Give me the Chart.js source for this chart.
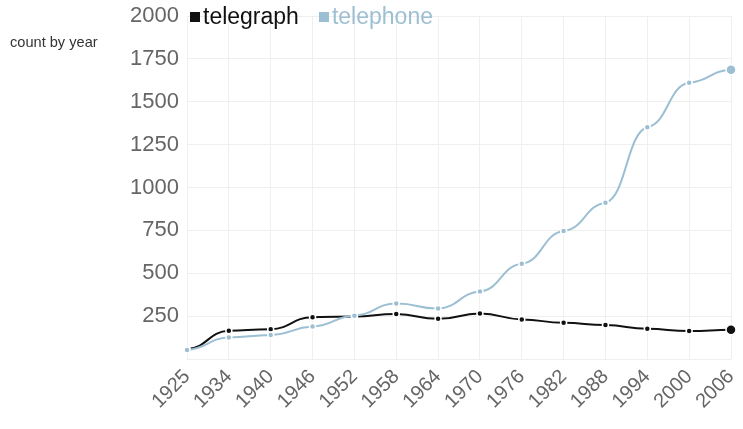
<!DOCTYPE html>
<html>
<head>
<meta charset="utf-8">
<script src="https://cdn.jsdelivr.net/npm/chart.js@4/dist/chart.umd.min.js"></script>
<style>
  html, body { margin: 0; padding: 0; background: #fff; }
  #wrap { position: relative; width: 743px; height: 429px; font-family: "Liberation Sans", Arial, sans-serif; }
  #yTitle { position: absolute; left: 10px; top: 34px; font-size: 14.6px; color: #333; }
  #legend { position: absolute; left: 190px; top: 3px; font-size: 23px; white-space: nowrap; }
  #legend span.item { margin-right: 20px; }
  #legend i { display: inline-block; width: 10px; height: 10px; margin-right: 3px; vertical-align: 2px; }
</style>
</head>
<body>
<div id="wrap">
  <canvas id="myChart" width="743" height="429"></canvas>
  <div id="yTitle">count by year</div>
  <div id="legend"></div>
</div>
<script>
var years = ['1925','1934','1940','1946','1952','1958','1964','1970','1976','1982','1988','1994','2000','2006'];
var telegraph = [58, 164, 174, 244, 248, 263, 234, 265, 231, 211, 198, 176, 163, 171];
var telephone = [53, 125, 140, 189, 252, 324, 295, 394, 555, 746, 911, 1351, 1611, 1687];
var yTicks = [250, 500, 750, 1000, 1250, 1500, 1750, 2000];

var seriesNames = ['telegraph', 'telephone'];
var seriesColors = ['#111111', '#9dbfd3'];

// points bigger on the last year, like the original
function radius(ctx) {
    return ctx.dataIndex === years.length - 1 ? 5 : 3;
}

// the original curve is almost flat at every point, so flatten the bezier handles
var flatCurves = {
    id: 'flatCurves',
    beforeDatasetDraw: function(chart, args) {
        var meta = args.meta;
        meta.dataset.updateControlPoints(chart.chartArea, meta.iScale.axis);
        var pts = meta.data;
        for (var j = 0; j < pts.length; j++) {
            var p = pts[j];
            if (j > 0) {
                p.cp1x = p.x - (p.x - pts[j - 1].x) * 0.5;
                p.cp1y = p.y + (p.cp1y - p.y) * 0.2;
            }
            if (j < pts.length - 1) {
                p.cp2x = p.x + (pts[j + 1].x - p.x) * 0.5;
                p.cp2y = p.y + (p.cp2y - p.y) * 0.2;
            }
        }
    }
};

var ctx = document.getElementById('myChart').getContext('2d');
var myChart = new Chart(ctx, {
    type: 'line',
    data: {
        labels: years,
        datasets: [{
            label: seriesNames[0],
            data: telegraph,
            borderColor: seriesColors[0],
            backgroundColor: seriesColors[0],
            pointBorderColor: '#fff',
            pointBorderWidth: 1.5,
            pointRadius: radius,
            borderWidth: 2,
            tension: 0.4,
            order: 1
        }, {
            label: seriesNames[1],
            data: telephone,
            borderColor: seriesColors[1],
            backgroundColor: seriesColors[1],
            pointBorderColor: '#fff',
            pointBorderWidth: 1.5,
            pointRadius: radius,
            borderWidth: 2,
            tension: 0.4,
            order: 0
        }]
    },
    plugins: [flatCurves],
    options: {
        responsive: false,
        animation: false,
        layout: { padding: { top: 16, right: 12, bottom: 0, left: 0 } },
        plugins: {
            legend: { display: false },
            tooltip: { enabled: false }
        },
        scales: {
            x: {
                offset: false,
                border: { display: false },
                grid: { color: '#efefef', drawTicks: false },
                ticks: {
                    minRotation: 45,
                    maxRotation: 45,
                    padding: 6,
                    color: '#666',
                    font: { family: 'Liberation Sans', size: 20 }
                },
                afterFit: function(scale) {
                    scale.height = 70;
                    scale.paddingLeft = 0;
                    scale.paddingRight = 0;
                }
            },
            y: {
                min: 0,
                max: 2000,
                border: { display: false },
                grid: { color: '#efefef', drawTicks: false },
                afterBuildTicks: function(scale) {
                    scale.ticks = [{ value: 0 }].concat(yTicks.map(function(v) { return { value: v }; }));
                },
                ticks: {
                    padding: 8,
                    color: '#666',
                    font: { family: 'Liberation Sans', size: 22 },
                    callback: function(v) { return v === 0 ? '' : v; }
                },
                afterFit: function(scale) {
                    scale.width = 187;
                    scale.paddingTop = 0;
                    scale.paddingBottom = 0;
                }
            }
        }
    }
});

// legend in html, above the plot like the original
var legend = document.getElementById('legend');
seriesNames.forEach(function(name, i) {
    var item = document.createElement('span');
    item.className = 'item';
    item.style.color = seriesColors[i];
    item.innerHTML = '<i style="background:' + seriesColors[i] + '"></i>' + name;
    legend.appendChild(item);
});
</script>
</body>
</html>
